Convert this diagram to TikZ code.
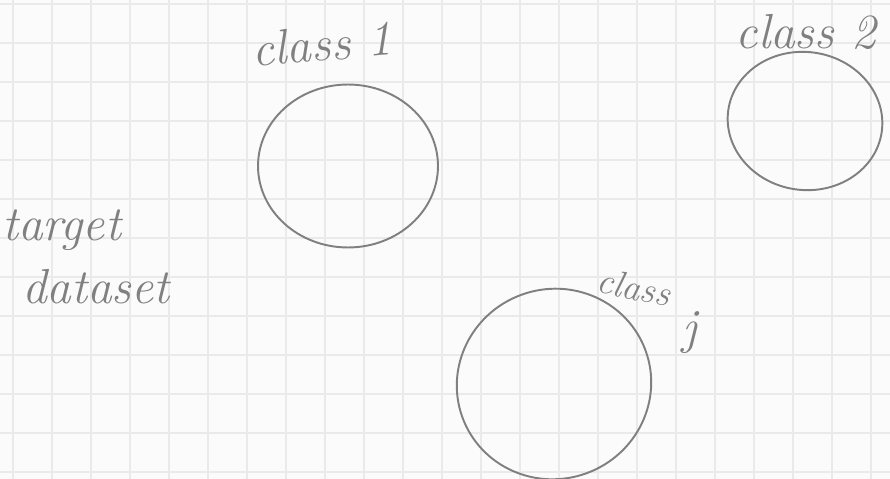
\documentclass[tikz,border=0pt]{standalone}
\usepackage{xcolor}
\usetikzlibrary{shapes.geometric}
\definecolor{pencil}{HTML}{808080}
\definecolor{paper}{HTML}{FBFBFB}
\definecolor{gridline}{HTML}{EAEAEA}
\begin{document}
\begin{tikzpicture}[x=0.02cm,y=-0.02cm, blob/.style={draw=pencil,ellipse,line width=1.1pt,inner sep=0pt}, hand/.style={text=pencil,font=\fontsize{28}{36}\selectfont\itshape,inner sep=0pt,align=left}]
\useasboundingbox (0,0) rectangle (890,479);
\fill[paper] (0,0) rectangle (890,479);
% squared paper
\foreach \gx in {13,52,...,890} \draw[gridline,line width=1.2pt] (\gx,0)--(\gx,479);
\foreach \gy in {4,43,...,479} \draw[gridline,line width=1.2pt] (0,\gy)--(890,\gy);
% classes
\node[blob,minimum width=3.6cm,minimum height=3.26cm] (c1) at (348,166) {};
\node[blob,minimum width=3.1cm,minimum height=2.76cm,rotate=-8] (c2) at (805,121) {};
\node[blob,minimum width=3.9cm,minimum height=3.8cm,rotate=20] (cj) at (554,384) {};
\node[hand,rotate=5] (l1) at (322,44) {class 1};
\node[hand] (l2) at (806,32) {class 2};
\node[hand,font=\fontsize{21}{24}\selectfont\itshape,rotate=-12] (lj) at (634,287) {class};
\node[hand] (lj2) at (690,333) {j};
\node[hand] (t) at (86,257) {target\\\hspace*{0.4em}dataset};
\end{tikzpicture}
\end{document}
